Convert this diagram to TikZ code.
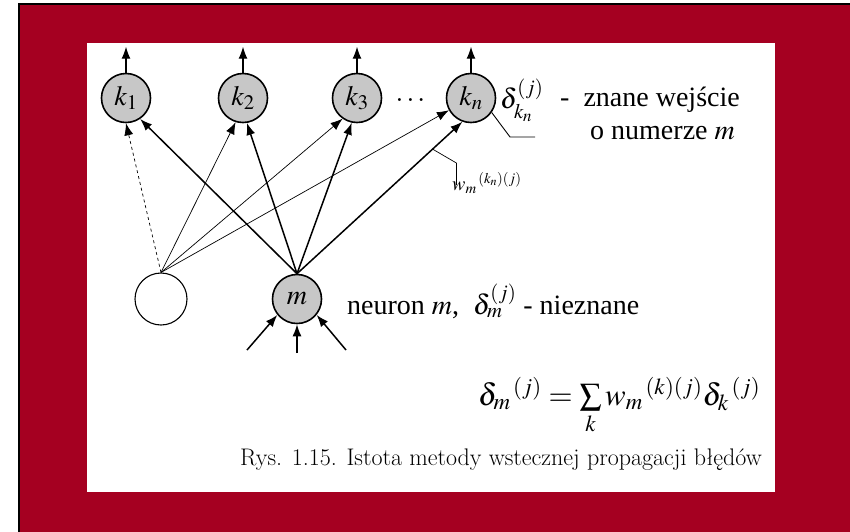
\documentclass[tikz,border=0pt]{standalone}
\usepackage{amsmath,amssymb}
\usepackage{mathptmx}
\usepackage{fontspec}
\newfontfamily\tnr{Liberation Serif}
\usepackage{tikz}
\usetikzlibrary{arrows.meta}
\definecolor{frame}{HTML}{A50021}

\begin{document}
\begin{tikzpicture}[x=1pt,y=-1pt,
    neuron/.style={circle,draw,line width=1.6pt,minimum size=49pt,inner sep=0pt,fill=black!22},
    empty/.style={circle,draw,line width=1.1pt,minimum size=52pt,inner sep=0pt},
    strong/.style={-{Latex[length=12pt,width=9pt]},line width=1.5pt},
    weak/.style={-{Latex[length=12pt,width=9pt]},line width=0.7pt},
    txt/.style={font=\tnr\fontsize{28}{31}\selectfont,inner sep=0pt}]
    \useasboundingbox (0,0) rectangle (850,531);
    \fill[white] (0,0) rectangle (850,531);
    \fill[frame] (19,4) rectangle (851,532);
    \draw[line width=1.5pt] (19,532) -- (19,4) -- (851,4);
    \fill[white] (87,43) rectangle (775,492);
    % output layer
    \node[neuron,txt] (k1) at (126,98) {$k_1$};
    \node[neuron,txt] (k2) at (243,98) {$k_2$};
    \node[neuron,txt] (k3) at (357,98) {$k_3$};
    \node[neuron,txt] (kn) at (471,98) {$k_n$};
    \node[txt] (dots) at (412,100) {$\dots$};
    \foreach \k in {k1,k2,k3,kn}
      \draw[strong,line width=1.2pt] (\k.north) -- ++(0,-26);
    % hidden layer
    \node[empty] (h) at (161,299) {};
    \node[neuron,txt] (m) at (297,299) {$m$};
    \coordinate (in1) at (247,350);
    \coordinate (in2) at (297,353);
    \coordinate (in3) at (346,350);
    \draw[strong] (in1) -- (m.219);
    \draw[strong] (in2) -- (m.south);
    \draw[strong] (in3) -- (m.321);
    % connections
    \draw[weak,dashed] (h.north) -- (k1.south);
    \draw[weak] (h.north) -- (k2.253);
    \draw[weak] (h.north) -- (k3.235);
    \draw[weak] (h.north) -- (kn.209);
    \draw[strong] (m.north) -- (k1.304);
    \draw[strong] (m.north) -- (k2.279);
    \draw[strong] (m.north) -- (k3.258);
    \draw[strong] (m.north) -- (kn.250) coordinate[pos=0.82] (wpt);
    \coordinate (knext) at (535,137);
    \draw[line width=0.9pt] (kn.-35) -- (510,137) -- (knext);
    \draw[line width=0.7pt] (wpt) -- ++(24,14) -- ++(0,22);
    % labels
    \node[txt,anchor=west] (dkn) at (500,100) {$\delta_{k_n}^{(j)}$};
    \node[txt,anchor=west] (known) at (560,100) {-\enspace znane wejście};
    \node[txt,anchor=west] (knum) at (590,133) {o numerze $m$};
    \node[txt,anchor=north west,font=\tnr\fontsize{20}{22}\selectfont] (wlab) at (452,172) {$w_m{}^{\,(k_n)(j)}$};
    \node[txt,anchor=west] (nm) at (347,301) {neuron $m$,\ \ $\delta_m^{(j)}$ - nieznane};
    \node[txt,anchor=west,font=\tnr\fontsize{31}{34}\selectfont] (eq) at (478,406) {$\delta_m{}^{\,(j)} = \sum\limits_k w_m{}^{\,(k)(j)}\delta_k{}^{\,(j)}$};
    \node[anchor=west,inner sep=0pt,font=\fontsize{24}{27}\selectfont] (cap) at (240,460) {Rys. 1.15. Istota metody wstecznej propagacji błędów};
\end{tikzpicture}
\end{document}
